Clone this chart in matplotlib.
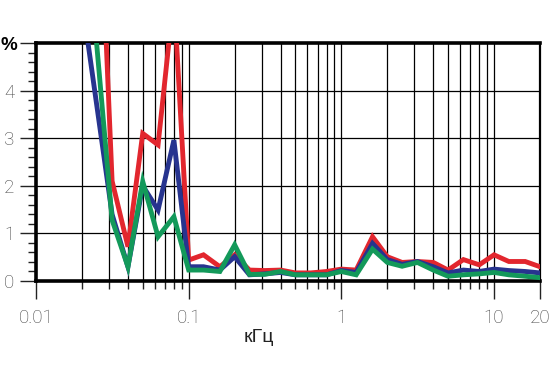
import numpy as np
import matplotlib
matplotlib.use("Agg")
import matplotlib.pyplot as plt
from matplotlib.ticker import FixedLocator, NullFormatter

# frequency points, kHz
freq_khz = [0.02, 0.0315, 0.04, 0.05, 0.063, 0.08, 0.1, 0.125, 0.16, 0.2,
            0.25, 0.315, 0.4, 0.5, 0.63, 0.8, 1.0, 1.25, 1.6, 2.0,
            2.5, 3.15, 4.0, 5.0, 6.3, 8.0, 10.0, 12.5, 16.0, 20.0]

# distortion, %
red_pct = [17.0, 2.1, 0.72, 3.1, 2.86, 6.0, 0.44, 0.55, 0.3, 0.55,
           0.23, 0.22, 0.23, 0.17, 0.17, 0.2, 0.25, 0.23, 0.93, 0.51,
           0.39, 0.41, 0.39, 0.23, 0.45, 0.34, 0.55, 0.41, 0.41, 0.3]
blue_pct = [5.9, 1.4, 0.3, 2.0, 1.49, 2.96, 0.3, 0.3, 0.23, 0.51,
            0.13, 0.15, 0.18, 0.13, 0.13, 0.13, 0.22, 0.18, 0.79, 0.45,
            0.35, 0.41, 0.3, 0.17, 0.23, 0.2, 0.25, 0.22, 0.2, 0.17]
green_pct = [8.5, 1.28, 0.3, 2.09, 0.93, 1.35, 0.23, 0.23, 0.2, 0.76,
             0.14, 0.14, 0.2, 0.13, 0.13, 0.13, 0.2, 0.13, 0.67, 0.39,
             0.31, 0.39, 0.23, 0.1, 0.13, 0.15, 0.18, 0.13, 0.1, 0.07]

x_major = [0.01, 0.1, 1, 10, 20]
x_major_labels = ['0.01', '0.1', '1', '10', '20']
y_major = [0, 1, 2, 3, 4, 5]
y_major_labels = ['0', '1', '2', '3', '4', '']  # top one is the unit, drawn below

plt.rcParams['font.family'] = ['Liberation Sans', 'DejaVu Sans']

fig = plt.figure(figsize=(5.5, 3.86), dpi=100)
ax = fig.add_axes((0.0655, 0.272, 0.9163, 0.6166))

ax.plot(freq_khz, red_pct, color='#e2262e', lw=3.5, solid_joinstyle='miter', zorder=3)
ax.plot(freq_khz, blue_pct, color='#27348f', lw=3.5, solid_joinstyle='miter', zorder=4)
ax.plot(freq_khz, green_pct, color='#13995a', lw=3.5, solid_joinstyle='miter', zorder=5)

ax.set_xscale('log')
ax.set_xlim(0.01, 20)
ax.set_ylim(0, 5)

# ticks
minor_x = [m * d for d in (0.01, 0.1, 1) for m in range(2, 10)]
ax.xaxis.set_major_locator(FixedLocator(x_major))
ax.set_xticklabels(x_major_labels)
ax.xaxis.set_minor_locator(FixedLocator(minor_x))
ax.xaxis.set_minor_formatter(NullFormatter())
ax.set_yticks(y_major)
ax.set_yticklabels(y_major_labels)
ax.yaxis.set_minor_locator(FixedLocator(np.arange(0, 5.01, 0.2)))

ax.tick_params(axis='x', which='major', direction='out', width=1.0,
               length=13, color='#222222', labelsize=13.5, labelcolor='#444444', pad=7)
ax.tick_params(axis='y', which='major', direction='out', width=1.0,
               length=11.5, color='#222222', labelsize=13.5, labelcolor='#444444', pad=4)
ax.tick_params(axis='both', which='minor', direction='out', width=1.0,
               length=5.8, color='#222222')
for lbl in ax.get_xticklabels() + ax.get_yticklabels():
    lbl.set_family(['Roboto', 'Liberation Sans'])
    lbl.set_fontweight('light')

# unit label in place of the "5"
fig.text(0.016, 1 - 46 / 386, '%', ha='center', va='center', fontsize=13.5,
         color='black', fontweight='bold')

# grid
for f in minor_x + [0.1, 1, 10]:
    ax.axvline(f, color='black', lw=0.9, zorder=1)
for v in [1, 2, 3, 4]:
    ax.axhline(v, color='black', lw=0.9, zorder=1)

for side in ['left', 'bottom', 'top']:
    ax.spines[side].set_linewidth(2.6)
ax.spines['right'].set_linewidth(1.6)

fig.text(0.471, 0.125, 'кГц', ha='center', va='center', fontsize=14, color='#222222')

fig.savefig('out.png', dpi=100)
